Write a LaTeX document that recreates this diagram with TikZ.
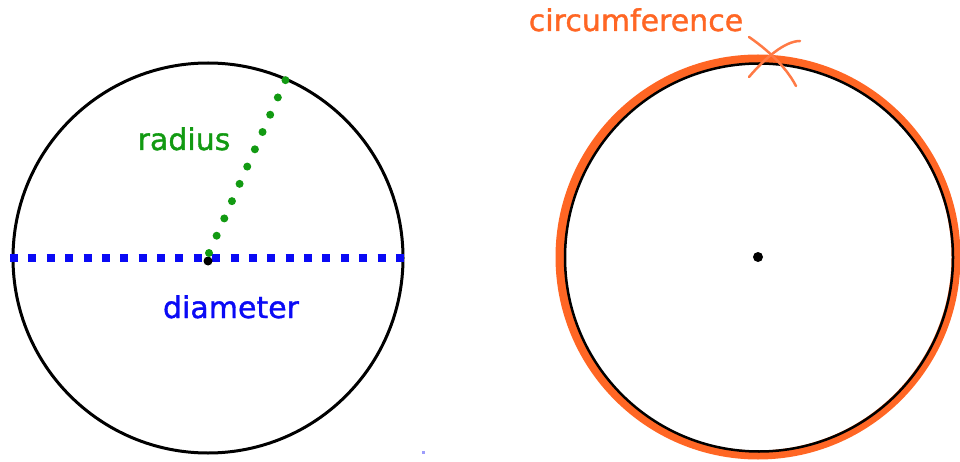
\documentclass[tikz,border=0pt]{standalone}
\usepackage{fontspec}
\setmainfont{DejaVu Sans}[FakeBold=1.2]
\definecolor{myblue}{HTML}{0A0AF5}
\definecolor{mygreen}{HTML}{129A12}
\definecolor{myorange}{HTML}{FF6624}
\definecolor{myorangelight}{HTML}{FF7A45}
\begin{document}
\begin{tikzpicture}[x=1pt,y=-1pt,
  ring/.style={draw=black,line width=3pt},
  label/.style={font=\fontsize{30}{36}\selectfont,inner sep=0pt,anchor=base},
  centredot/.style={fill=black}]
\useasboundingbox (0,0) rectangle (960,462);
% left circle
\coordinate (cL) at (208,258);
\coordinate (dL) at (10,258);
\coordinate (dR) at (404,258);
\coordinate (rs) at (209,253);
\coordinate (re) at (286,79);
\draw[ring] (cL) circle[radius=195];
\draw[myblue,line width=8pt,dash pattern=on 8pt off 10.38pt] (dL) -- (dR);
\fill[centredot] (208,261) circle[radius=4.5];
\draw[mygreen,line width=8pt,line cap=round,dash pattern=on 0pt off 18.9pt] (rs) -- (re);
\node[label,text=mygreen] (radius) at (184,150) {radius};
\node[label,text=myblue] (diameter) at (231,318) {diameter};
\fill[myblue!40] (422,451) rectangle (425,454);
% right circle
\coordinate (cR) at (758,257);
\draw[myorange,line width=9pt] (cR) circle[radius=198];
\draw[black,line width=2.5pt] (759,257.5) circle[radius=194];
\fill[centredot] (cR) circle[radius=5];
\node[label,text=myorange] (circ) at (636,31) {circumference};
\coordinate (x1a) at (749,37);
\coordinate (x1b) at (796,86);
\coordinate (x2a) at (800,41);
\coordinate (x2b) at (749,77);
\draw[myorangelight,line width=2.5pt,line cap=round] (x1a) .. controls (765,48) and (785,65) .. (x1b);
\draw[myorangelight,line width=2.5pt,line cap=round] (x2a) .. controls (785,41) and (765,58) .. (x2b);
\end{tikzpicture}
\end{document}
